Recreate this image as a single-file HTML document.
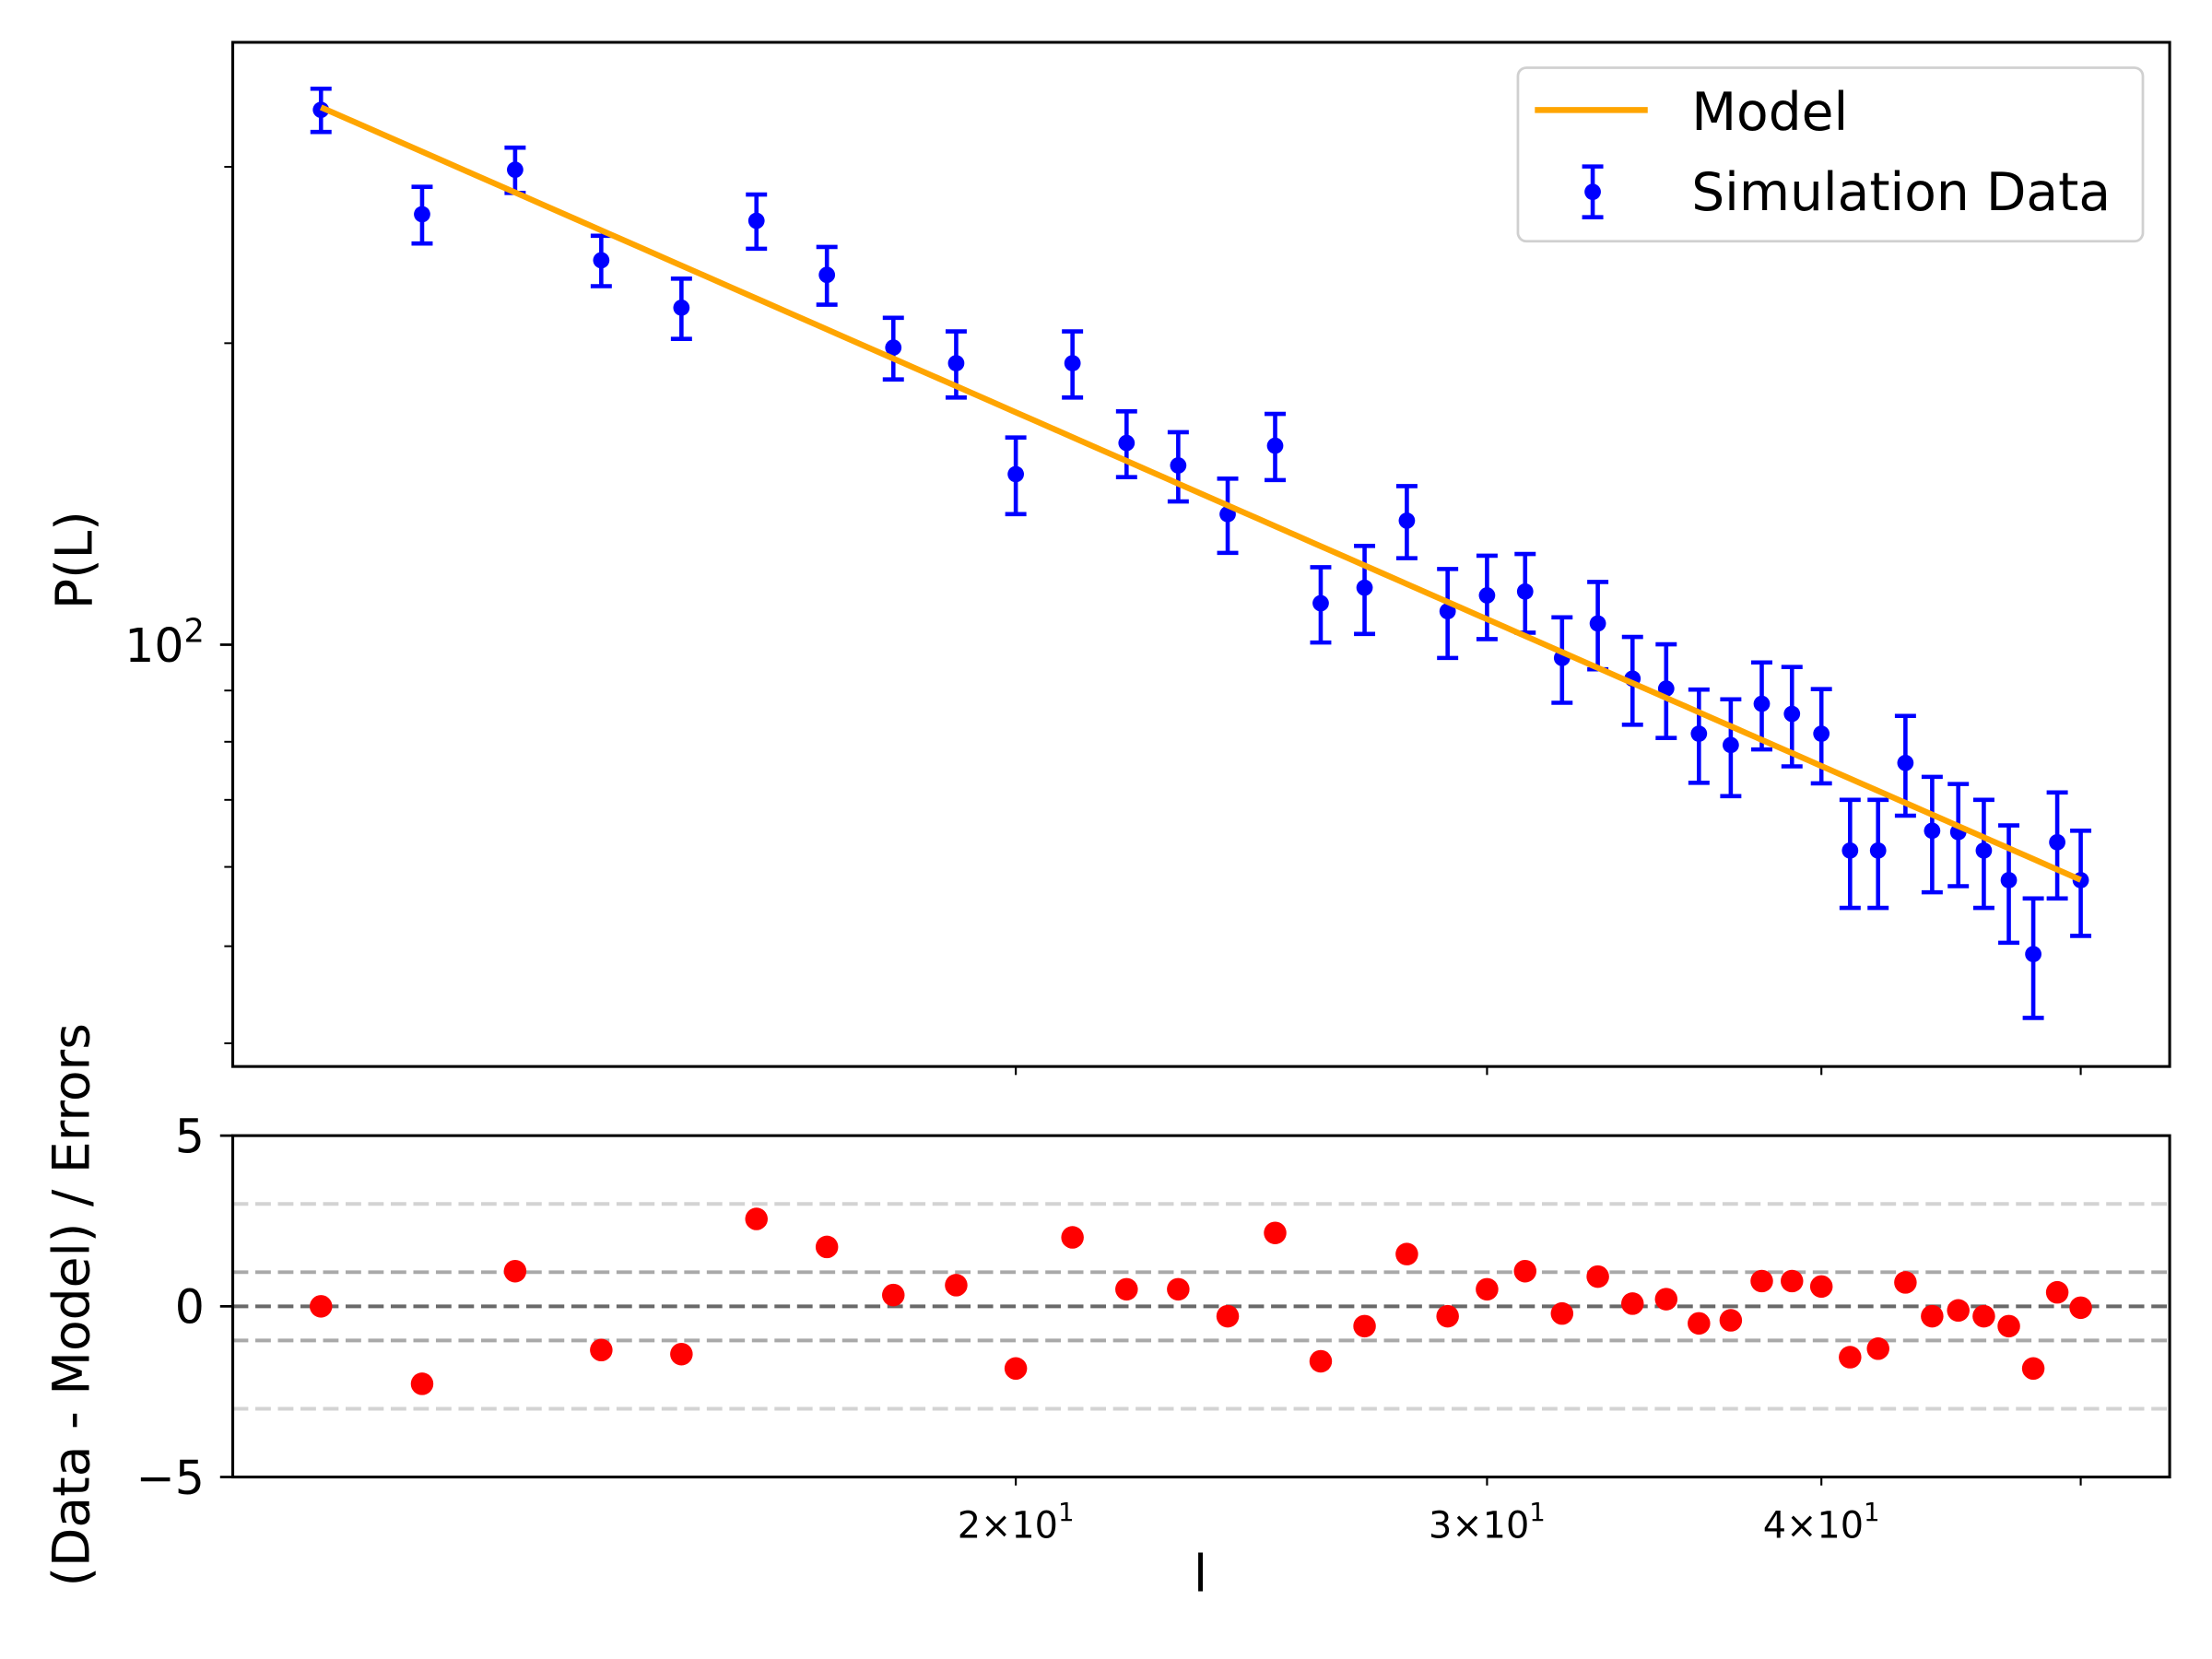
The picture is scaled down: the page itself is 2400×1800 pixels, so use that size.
<!DOCTYPE html>
<html><head><meta charset="utf-8"><style>
html,body{margin:0;padding:0;background:#fff;}
svg{display:block;}
text{font-family:"DejaVu Sans","Liberation Sans",sans-serif;}
</style></head><body>
<svg id="chart" width="2400" height="1800" viewBox="0 0 1568 1176" preserveAspectRatio="none" xmlns="http://www.w3.org/2000/svg">
<rect x="0" y="0" width="1568" height="1176" fill="#fff"/>
<g id="main"></g>
</svg>
<script>
const lValues = [11,12,13,14,15,16,17,18,19,20,21,22,23,24,25,26,27,28,29,30,31,32,33,34,35,36,37,38,39,40,41,42,43,44,45,46,47,48,49,50];
const pValues = [342,269,298,242,217,265,234,198,191,148,191,159,151,135,158,110,114,133,108,112,113,97,105,92.5,90.4,81.5,79.4,87.3,85.3,81.5,62.3,62.3,76.2,65.2,65.0,62.3,58.2,49.1,63.5,58.2];
const pErrors = [17,17.5,15.5,14,15,16.5,15.5,14,14.5,13,14.5,12,12,11.5,12,9.5,11.5,11,11,10.7,10.2,9.5,10.5,9.3,9.7,8.7,8.8,8.7,9.7,8.8,7.7,7.7,8.7,8.6,7.6,7.7,7.8,6.7,7.7,7];
const residuals = [0,-2.27,1.03,-1.28,-1.40,2.56,1.74,0.33,0.62,-1.82,2.02,0.50,0.50,-0.29,2.15,-1.61,-0.58,1.53,-0.29,0.50,1.03,-0.21,0.87,0.08,0.21,-0.50,-0.41,0.74,0.74,0.58,-1.49,-1.24,0.70,-0.29,-0.12,-0.29,-0.58,-1.82,0.41,-0.04];
const modelAmp = 344;
const modelSlope = -1.173;
const xTickValues = [20,30,40,50];
const xTickLabels = ["2","3","4",""];
const yMinorTicks = [40,50,60,70,80,90,200,300];
const residTicks = [5,0,-5];
const refLines = [3,1,0,-1,-3];

const NS="http://www.w3.org/2000/svg";
const mainG=document.getElementById('main');
function X(l){return 149+1897*Math.log10(l/10);}
function Y(p){return 457-710*Math.log10(p/100);}
function R(v){return 926-24.2*v;}
function el(tag,attrs,parent){const e=document.createElementNS(NS,tag);for(const k in attrs)e.setAttribute(k,attrs[k]);(parent||mainG).appendChild(e);return e;}
const AX0=165,AX1=1538,T0=30,T1=756,B0=805,B1=1047;

const defsEl=el('defs',{});
const cp=el('clipPath',{id:'clipTop'},defsEl);el('rect',{x:AX0,y:T0,width:AX1-AX0,height:T1-T0},cp);
const cp2=el('clipPath',{id:'clipBot'},defsEl);el('rect',{x:AX0,y:B0,width:AX1-AX0,height:B1-B0},cp2);

// top panel
const topG=el('g',{'clip-path':'url(#clipTop)'});


let pathD='';
for(let i=0;i<=100;i++){const l=11+i*(50-11)/100;const p=modelAmp*Math.pow(l/11,modelSlope);pathD+=(i?'L':'M')+X(l).toFixed(2)+' '+Y(p).toFixed(2);}
lValues.forEach((l,i)=>{
  const x=X(l),p=pValues[i],e=pErrors[i];
  const gg=el('g',{},topG);
  
  
  const y1=Y(p+e),y2=Y(p-e);
  el('line',{x1:x,x2:x,y1:y1,y2:y2,stroke:'#0000ff','stroke-width':3},gg);
  el('line',{x1:x-7.5,x2:x+7.5,y1:y1,y2:y1,stroke:'#0000ff','stroke-width':3},gg);
  el('line',{x1:x-7.5,x2:x+7.5,y1:y2,y2:y2,stroke:'#0000ff','stroke-width':3},gg);
  el('circle',{cx:x,cy:Y(p),r:5.8,fill:'#0000ff'},gg);
});
const ml=el('path',{d:pathD,stroke:'#ffa500','stroke-width':4.2,fill:'none'},topG);


const tf=el('rect',{x:AX0,y:T0,width:AX1-AX0,height:T1-T0,fill:'none',stroke:'#000','stroke-width':2});


xTickValues.forEach(v=>{el('line',{x1:X(v),x2:X(v),y1:T1,y2:T1+6,stroke:'#000','stroke-width':1.4});});
el('line',{x1:AX0-9,x2:AX0,y1:Y(100),y2:Y(100),stroke:'#000','stroke-width':1.8});
yMinorTicks.forEach(v=>{el('line',{x1:AX0-6,x2:AX0,y1:Y(v),y2:Y(v),stroke:'#000','stroke-width':1.3});});
const yl=el('text',{x:145,y:Y(100)+12,'font-size':33,'text-anchor':'end'});
yl.textContent='10';
const sup=el('tspan',{dy:-14,'font-size':23},yl);sup.textContent='2';


const pt=el('text',{x:0,y:0,'font-size':36,'text-anchor':'middle',transform:'translate(65,397) rotate(-90)'});
pt.textContent='P(L)';



// legend
const lg=el('g',{});


el('rect',{x:1076,y:48,width:443,height:123,rx:6,fill:'#fff','fill-opacity':0.8,stroke:'#d0d0d0','stroke-width':1.8},lg);
el('line',{x1:1088,x2:1168,y1:78,y2:78,stroke:'#ffa500','stroke-width':4.2},lg);
const t1=el('text',{x:1199,y:92,'font-size':37},lg);t1.textContent='Model';


el('line',{x1:1129,x2:1129,y1:118,y2:154,stroke:'#0000ff','stroke-width':3},lg);
el('line',{x1:1121.5,x2:1136.5,y1:118,y2:118,stroke:'#0000ff','stroke-width':3},lg);
el('line',{x1:1121.5,x2:1136.5,y1:154,y2:154,stroke:'#0000ff','stroke-width':3},lg);
el('circle',{cx:1129,cy:136,r:5.8,fill:'#0000ff'},lg);
const t2=el('text',{x:1199,y:149,'font-size':37},lg);t2.textContent='Simulation Data';



// bottom panel
const botG=el('g',{'clip-path':'url(#clipBot)'});


const lineColors={'3':'#d3d3d3','1':'#a9a9a9','0':'#696969'};
refLines.forEach(v=>{
  const ln=el('line',{x1:AX0,x2:AX1,y1:R(v),y2:R(v),stroke:lineColors[String(Math.abs(v))],'stroke-width':2.6,'stroke-dasharray':'11 5'},botG);
  
  
});
lValues.forEach((l,i)=>{
  const c=el('circle',{cx:X(l),cy:R(residuals[i]),r:8,fill:'#ff0000'},botG);
  
  
});
const bf=el('rect',{x:AX0,y:B0,width:AX1-AX0,height:B1-B0,fill:'none',stroke:'#000','stroke-width':2});


residTicks.forEach(v=>{
  el('line',{x1:AX0-9,x2:AX0,y1:R(v),y2:R(v),stroke:'#000','stroke-width':1.8});
  const t=el('text',{x:145,y:R(v)+12,'font-size':33,'text-anchor':'end'});
  t.textContent=v<0?'\u2212'+Math.abs(v):String(v);
  
  
});
xTickValues.forEach((v,i)=>{
  el('line',{x1:X(v),x2:X(v),y1:B1,y2:B1+6,stroke:'#000','stroke-width':1.4});
  if(xTickLabels[i]){
    const t=el('text',{x:X(v),y:1090,'font-size':26,'text-anchor':'middle'});
    t.textContent=xTickLabels[i]+'\u00d710';
    const s=el('tspan',{dy:-12,'font-size':18},t);s.textContent='1';
    
    
  }
});
const xt=el('text',{x:851,y:1128,'font-size':36,'text-anchor':'middle'});
xt.textContent='l';


const rt=el('text',{x:0,y:0,'font-size':36,'text-anchor':'middle',transform:'translate(63,925) rotate(-90)'});
rt.textContent='(Data - Model) / Errors';


</script>
</body></html>
